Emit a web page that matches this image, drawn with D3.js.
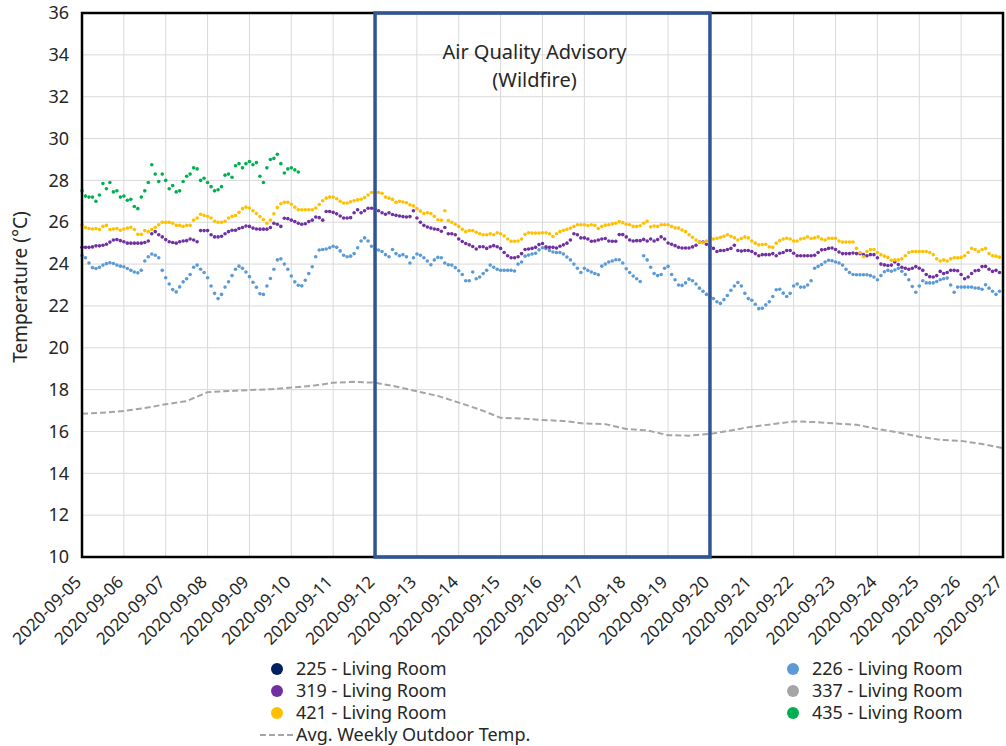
<!DOCTYPE html>
<html>
<head>
<meta charset="utf-8">
<script src="https://cdn.jsdelivr.net/npm/d3@7"></script>
<style>
  body { margin: 0; background: #fff; }
  svg { display: block; }
  text { font-family: "Noto Sans", "DejaVu Sans", sans-serif; }
</style>
</head>
<body>
<svg id="chart" width="1006" height="746"></svg>
<script>
// Axis labels
const dayLabels = ["2020-09-05","2020-09-06","2020-09-07","2020-09-08","2020-09-09","2020-09-10",
  "2020-09-11","2020-09-12","2020-09-13","2020-09-14","2020-09-15","2020-09-16","2020-09-17",
  "2020-09-18","2020-09-19","2020-09-20","2020-09-21","2020-09-22","2020-09-23","2020-09-24",
  "2020-09-25","2020-09-26","2020-09-27"];
const yTicks = [10,12,14,16,18,20,22,24,26,28,30,32,34,36];

// Sensor readings, every 2 hours from 2020-09-05 00:00 (one row per day)
const readingStart = "2020-09-05 00:00";
const readingStepHours = 2;

const room225 = [];
const room337 = [];

const room226 = [
  24.4,24.3,24.05,23.83,23.79,23.85,23.95,24.02,24.06,24.03,23.95,23.9,
  23.87,23.79,23.7,23.62,23.58,23.7,24.15,24.35,24.48,24.42,24.3,23.7,
  23.35,23.05,22.78,22.67,22.91,23.15,23.3,23.5,23.85,23.95,23.75,23.6,
  23.35,22.95,22.6,22.35,22.55,22.9,23.15,23.45,23.75,23.9,23.8,23.62,
  23.4,23.13,22.89,22.58,22.55,22.95,23.31,23.75,24.2,24.25,24.0,23.75,
  23.43,23.15,22.99,22.96,23.23,23.55,23.87,24.35,24.67,24.7,24.72,24.78,
  24.85,24.8,24.63,24.42,24.35,24.38,24.5,24.78,25.1,25.25,25.1,24.85,
  24.72,24.67,24.6,24.45,24.35,24.7,24.5,24.4,24.45,24.35,24.05,24.3,
  24.48,24.42,24.3,24.15,23.97,24.2,24.32,24.3,24.05,23.97,23.95,23.83,
  23.68,23.5,23.2,23.2,23.62,23.3,23.38,23.55,23.7,23.95,23.85,23.75,
  23.7,23.7,23.7,23.7,23.67,24.0,24.1,24.38,24.43,24.48,24.52,24.68,
  24.78,24.75,24.65,24.58,24.55,24.55,24.48,24.34,24.2,24.0,23.8,23.6,
  23.8,23.7,23.62,23.55,23.49,23.9,24.0,24.1,24.15,24.21,24.21,24.05,
  23.78,23.6,23.43,23.3,23.17,24.4,24.2,23.85,23.55,23.45,23.5,23.8,
  23.89,23.5,23.25,23.0,22.98,23.1,23.28,23.2,23.05,22.85,22.7,22.55,
  22.43,22.35,22.2,22.12,22.3,22.5,22.75,22.95,23.12,22.95,22.6,22.35,
  22.27,22.08,21.87,21.89,22.05,22.2,22.45,22.77,22.8,22.61,22.45,22.6,
  22.95,23.05,22.9,22.9,23.0,23.2,23.8,23.89,23.98,24.1,24.18,24.16,
  24.1,24.05,23.95,23.75,23.6,23.5,23.49,23.49,23.49,23.49,23.45,23.38,
  23.25,23.45,23.63,23.7,23.66,23.72,23.8,23.66,23.5,23.25,22.93,22.65,
  22.95,23.2,23.1,23.1,23.1,23.17,23.25,23.3,23.33,23.0,22.65,22.9,
  22.9,22.9,22.9,22.9,22.86,22.85,22.8,23.01,22.85,22.7,22.55,22.7
];

const room319 = [
  24.8,24.8,24.8,24.82,24.87,24.87,24.9,24.95,25.05,25.15,25.17,25.12,
  25.07,25.0,25.0,25.0,25.0,25.0,25.03,25.1,25.45,25.55,25.4,25.3,
  25.17,25.07,25.03,25.0,25.07,25.1,25.12,25.2,25.15,25.07,25.6,25.6,
  25.6,25.4,25.3,25.3,25.33,25.45,25.55,25.62,25.62,25.7,25.75,25.82,
  25.8,25.72,25.68,25.67,25.67,25.67,25.75,25.95,25.9,25.8,26.19,26.17,
  26.1,26.03,25.95,25.9,25.93,26.03,26.1,26.25,26.22,26.1,26.51,26.51,
  26.47,26.4,26.3,26.2,26.2,26.22,26.45,26.6,26.45,26.55,26.67,26.67,
  26.65,26.55,26.45,26.38,26.45,26.37,26.33,26.3,26.27,26.25,26.27,26.55,
  26.2,26.0,25.85,25.77,25.72,25.68,25.65,25.57,25.75,25.45,25.45,25.4,
  25.2,25.08,24.98,24.92,24.84,24.72,24.83,24.83,24.75,24.83,24.88,24.83,
  24.75,24.55,24.4,24.3,24.3,24.35,24.5,24.7,24.72,24.75,24.8,24.93,
  24.98,24.82,24.8,24.8,24.77,24.85,24.92,25.0,25.15,25.45,25.4,25.25,
  25.25,25.2,25.09,25.1,25.15,25.2,25.22,25.1,25.09,25.09,25.41,25.41,
  25.3,25.15,25.1,25.12,25.12,25.18,25.1,25.2,25.1,25.17,25.3,25.2,
  25.01,24.95,24.88,24.8,24.77,24.77,24.77,24.82,24.9,25.05,25.05,24.95,
  24.85,24.75,24.6,24.65,24.65,24.7,24.75,24.9,24.65,24.62,24.65,24.65,
  24.6,24.5,24.4,24.45,24.45,24.45,24.5,24.4,24.52,24.55,24.65,24.65,
  24.52,24.4,24.4,24.4,24.4,24.4,24.42,24.55,24.68,24.7,24.75,24.77,
  24.7,24.58,24.5,24.5,24.5,24.53,24.5,24.5,24.45,24.4,24.45,24.45,
  24.3,24.0,23.96,23.93,23.95,24.1,23.98,23.85,23.8,23.75,23.8,23.88,
  23.8,23.7,23.5,23.4,23.38,23.45,23.65,23.55,23.6,23.7,23.7,23.68,
  23.5,23.3,23.38,23.55,23.68,23.7,23.88,23.89,23.75,23.65,23.7,23.6
];

const room421 = [
  25.87,25.75,25.7,25.68,25.7,25.65,25.8,25.85,25.65,25.68,25.7,25.62,
  25.68,25.72,25.76,25.65,25.42,25.42,25.6,25.55,25.65,25.76,25.88,26.0,
  26.0,26.0,25.95,25.85,25.85,25.8,25.85,25.85,26.1,26.2,26.38,26.32,
  26.28,26.2,26.05,26.0,26.0,26.05,26.2,26.28,26.32,26.47,26.65,26.72,
  26.68,26.55,26.42,26.27,26.13,25.95,26.1,26.4,26.7,26.88,26.95,26.95,
  26.86,26.72,26.6,26.6,26.6,26.6,26.6,26.68,26.85,27.03,27.15,27.2,
  27.2,27.12,27.0,26.92,26.92,26.98,27.03,27.07,27.1,27.18,27.3,27.42,
  27.42,27.42,27.38,27.2,27.15,27.09,26.95,27.0,26.97,26.93,26.83,26.78,
  26.65,26.53,26.42,26.45,26.42,26.28,26.12,26.1,26.55,26.08,26.0,25.9,
  25.8,25.66,25.55,25.6,25.6,25.52,25.45,25.4,25.4,25.45,25.4,25.5,
  25.45,25.35,25.2,25.09,25.09,25.1,25.2,25.42,25.5,25.48,25.48,25.48,
  25.5,25.5,25.45,25.32,25.45,25.55,25.62,25.66,25.72,25.8,25.88,25.88,
  25.88,25.84,25.88,25.85,25.7,25.8,25.86,25.88,25.92,25.95,26.03,25.98,
  25.9,25.88,25.8,25.8,25.83,25.95,26.05,25.78,25.82,25.8,25.88,25.88,
  25.88,25.8,25.73,25.72,25.63,25.55,25.4,25.28,25.15,25.05,25.02,25.1,
  25.28,25.2,25.23,25.28,25.33,25.4,25.33,25.25,25.15,25.22,25.3,25.25,
  25.1,25.0,24.92,24.93,24.95,24.82,24.8,25.0,25.12,25.2,25.23,25.2,
  25.1,25.1,25.2,25.23,25.3,25.22,25.25,25.3,25.2,25.15,25.23,25.23,
  25.23,25.1,25.05,25.05,25.05,25.05,24.75,24.55,24.35,24.6,24.7,24.7,
  24.55,24.45,24.38,24.32,24.18,24.2,24.2,24.25,24.4,24.55,24.6,24.6,
  24.6,24.6,24.6,24.55,24.45,24.25,24.15,24.2,24.15,24.25,24.3,24.3,
  24.32,24.4,24.55,24.75,24.7,24.6,24.7,24.75,24.5,24.4,24.38,24.33
];

const room435 = [
  27.5,27.25,27.2,27.2,27.0,27.3,27.85,27.6,27.9,27.45,27.5,27.2,
  27.25,27.05,27.1,26.75,26.65,27.2,27.5,27.9,28.75,28.3,27.95,28.3,
  28.0,27.6,27.75,27.45,27.5,27.95,28.2,28.3,28.6,28.55,28.0,28.1,
  27.9,27.7,27.5,27.55,27.7,28.25,28.3,28.15,28.7,28.8,28.6,28.8,
  28.9,28.75,28.85,28.2,27.9,28.6,29.0,29.05,29.25,28.8,28.35,28.55,
  28.6,28.5,28.4
];

// Weekly average outdoor temperature, every 12 hours from 2020-09-05 00:00
const outdoorStepHours = 12;
const outdoorWeekly = [
  16.85,16.9,16.98,17.12,17.3,17.45,17.88,17.93,17.98,18.02,18.1,18.18,
  18.33,18.37,18.33,18.15,17.92,17.7,17.38,17.05,16.65,16.62,16.55,16.5,
  16.38,16.35,16.12,16.05,15.82,15.8,15.88,16.05,16.23,16.35,16.48,16.45,
  16.38,16.32,16.12,15.95,15.75,15.6,15.55,15.4,15.2
];

const advisoryStart = "2020-09-12";
const advisoryEnd = "2020-09-20";
const advisoryLines = ["Air Quality Advisory", "(Wildfire)"];

const series = [
  { name: "225 - Living Room", color: "#002060", values: room225 },
  { name: "226 - Living Room", color: "#5B9BD5", values: room226 },
  { name: "319 - Living Room", color: "#7030A0", values: room319 },
  { name: "337 - Living Room", color: "#A5A5A5", values: room337 },
  { name: "421 - Living Room", color: "#FFC000", values: room421 },
  { name: "435 - Living Room", color: "#00B050", values: room435 }
];
const outdoorName = "Avg. Weekly Outdoor Temp.";

// ---- layout ----
const svg = d3.select("#chart");
const plot = { left: 82, top: 13, right: 1003, bottom: 557 };
const parseDay = d3.timeParse("%Y-%m-%d");
const parseStamp = d3.timeParse("%Y-%m-%d %H:%M");
const t0 = parseStamp(readingStart);

const x = d3.scaleTime()
  .domain([parseDay(dayLabels[0]), parseDay(dayLabels[dayLabels.length - 1])])
  .range([plot.left, plot.right]);
const y = d3.scaleLinear().domain([10, 36]).range([plot.bottom, plot.top]);

const textColor = "#262626";

// gridlines
const grid = svg.append("g");
grid.selectAll("line.v").data(dayLabels).join("line")
  .attr("x1", d => x(parseDay(d))).attr("x2", d => x(parseDay(d)))
  .attr("y1", plot.top).attr("y2", plot.bottom)
  .attr("stroke", "#D9D9D9").attr("stroke-width", 1);
grid.selectAll("line.h").data(yTicks).join("line")
  .attr("x1", plot.left).attr("x2", plot.right)
  .attr("y1", d => y(d)).attr("y2", d => y(d))
  .attr("stroke", "#D9D9D9").attr("stroke-width", 1);

// y axis labels
const yAxis = d3.axisLeft(y).tickValues(yTicks).tickSize(0).tickPadding(13);
svg.append("g").attr("transform", `translate(${plot.left},0)`).call(yAxis)
  .call(g => g.select(".domain").remove())
  .call(g => g.selectAll("text").attr("font-size", 18).attr("fill", textColor)
    .attr("font-family", '"Noto Sans", sans-serif'));

// x axis labels, rotated
const xAxis = d3.axisBottom(x).tickValues(dayLabels.map(parseDay))
  .tickFormat(d3.timeFormat("%Y-%m-%d")).tickSize(0);
svg.append("g").attr("transform", `translate(0,${plot.bottom})`).call(xAxis)
  .call(g => g.select(".domain").remove())
  .call(g => g.selectAll("text")
    .attr("font-size", 17).attr("fill", textColor)
    .attr("font-family", '"Noto Sans", sans-serif')
    .attr("text-anchor", "end")
    .attr("y", 0).attr("dy", 0)
    .attr("transform", "translate(0,26) rotate(-45)"));

// y axis title
svg.append("text")
  .attr("transform", `translate(27,${(plot.top + plot.bottom) / 2 + 2}) rotate(-90)`)
  .attr("text-anchor", "middle").attr("font-size", 19).attr("fill", textColor)
  .text("Temperature (°C)");

// outdoor weekly average, dashed
const outdoorLine = d3.line()
  .x((d, i) => x(d3.timeHour.offset(t0, i * outdoorStepHours)))
  .y(d => y(d));
svg.append("path").datum(outdoorWeekly)
  .attr("d", outdoorLine).attr("fill", "none")
  .attr("stroke", "#A5A5A5").attr("stroke-width", 2).attr("stroke-dasharray", "6,3");

// sensor readings as small markers
const marks = svg.append("g");
series.forEach(s => {
  marks.append("g").selectAll("circle")
    .data(s.values.map((v, i) => ({ t: d3.timeHour.offset(t0, i * readingStepHours), v })))
    .join("circle")
    .attr("cx", d => x(d.t)).attr("cy", d => y(d.v)).attr("r", 1.8)
    .attr("fill", s.color);
});

// plot frame
svg.append("rect")
  .attr("x", plot.left).attr("y", plot.top)
  .attr("width", plot.right - plot.left).attr("height", plot.bottom - plot.top)
  .attr("fill", "none").attr("stroke", "#000").attr("stroke-width", 2.5);

// advisory period box
const ax0 = x(parseDay(advisoryStart)), ax1 = x(parseDay(advisoryEnd));
svg.append("rect")
  .attr("x", ax0).attr("y", plot.top)
  .attr("width", ax1 - ax0).attr("height", plot.bottom - plot.top)
  .attr("fill", "none").attr("stroke", "#2F5597").attr("stroke-width", 3.5);
svg.append("g").selectAll("text").data(advisoryLines).join("text")
  .attr("x", (ax0 + ax1) / 2 - 8).attr("y", (d, i) => 59 + i * 28)
  .attr("text-anchor", "middle").attr("font-size", 20).attr("fill", textColor)
  .text(d => d);

// legend
const legendRows = [
  [series[0], series[1]],
  [series[2], series[3]],
  [series[4], series[5]]
];
const legend = svg.append("g");
const colX = [277, 793];
legendRows.forEach((row, r) => {
  row.forEach((s, c) => {
    const cy = 669 + r * 22;
    legend.append("circle").attr("cx", colX[c]).attr("cy", cy).attr("r", 6).attr("fill", s.color);
    legend.append("text").attr("x", colX[c] + 19).attr("y", cy + 6)
      .attr("font-size", 18).attr("fill", textColor).text(s.name);
  });
});
legend.append("line").attr("x1", 260).attr("x2", 293).attr("y1", 735).attr("y2", 735)
  .attr("stroke", "#A5A5A5").attr("stroke-width", 2).attr("stroke-dasharray", "6,3");
legend.append("text").attr("x", 296).attr("y", 741)
  .attr("font-size", 18).attr("fill", textColor).text(outdoorName);
</script>
</body>
</html>
